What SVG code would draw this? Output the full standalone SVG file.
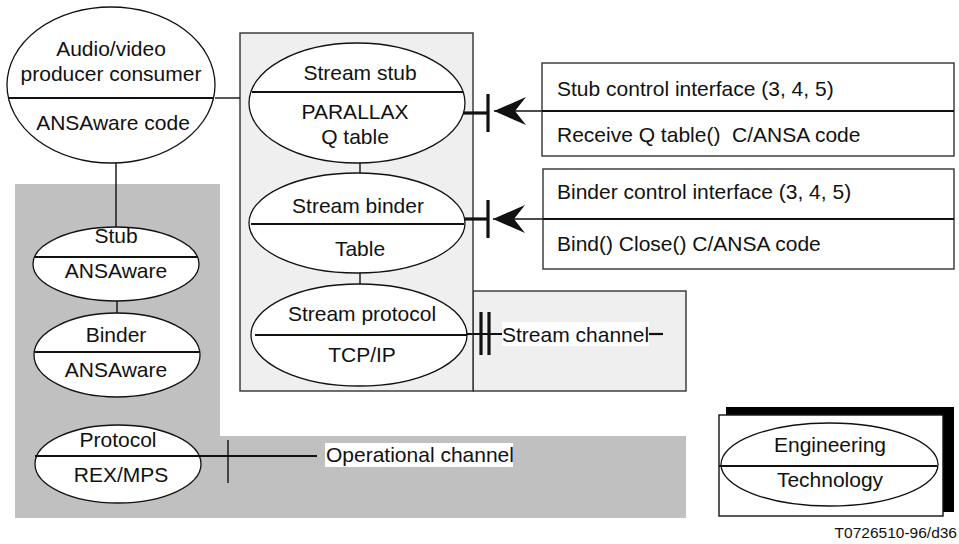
<svg xmlns="http://www.w3.org/2000/svg" width="959" height="544" viewBox="0 0 959 544">
<defs>
<style>
text{font-family:"Liberation Sans",Arial,sans-serif;font-size:21px;fill:#111}
.c{text-anchor:middle}
.el{fill:#fff;stroke:#111;stroke-width:1.3}
.dv{stroke:#111;stroke-width:2.2}
.ln{stroke:#111;stroke-width:1.4;fill:none}
.thk{stroke:#111;stroke-width:3.2;fill:none}
.box{fill:#fff;stroke:#333;stroke-width:1.4}
</style>
<marker id="arr" markerUnits="userSpaceOnUse" viewBox="0 0 32 30" markerWidth="32" markerHeight="30" refX="32" refY="15" orient="auto">
<path d="M32,15 L0,1 L11,15 L0,29 Z" fill="#111"/>
</marker>
</defs>
<rect width="959" height="544" fill="#fff"/>

<g id="operational-domain">
<path d="M15,184 H220 V436 H686 V518 H15 Z" fill="#c0c0c0"/>
</g>
<g id="stream-domain">
<rect x="473" y="291" width="213" height="100" fill="#efefef" stroke="#333" stroke-width="1.4"/>
<rect x="240" y="33" width="233" height="358" fill="#efefef" stroke="#333" stroke-width="1.4"/>
</g>

<g id="connectors">
<line class="ln" x1="215" y1="98" x2="240" y2="98"/>
<line class="ln" x1="116" y1="163" x2="116" y2="227"/>
<line class="ln" x1="117" y1="301" x2="117" y2="313"/>
<line class="ln" x1="360" y1="163" x2="360" y2="173"/>
<line class="ln" x1="360" y1="273" x2="360" y2="284"/>
<line class="thk" x1="463" y1="113" x2="488" y2="113"/>
<line class="thk" x1="488" y1="94" x2="488" y2="132"/>
<line class="ln" x1="542" y1="111" x2="494" y2="111" stroke-width="1.8" marker-end="url(#arr)"/>
<line class="thk" x1="464" y1="219" x2="488" y2="219"/>
<line class="thk" x1="488" y1="200" x2="488" y2="238"/>
<line class="ln" x1="543" y1="219" x2="493" y2="219" stroke-width="1.8" marker-end="url(#arr)"/>
<line class="dv" x1="466" y1="334" x2="502" y2="334"/>
<line class="thk" x1="481" y1="312" x2="481" y2="355" stroke-width="2.6"/>
<line class="thk" x1="489" y1="312" x2="489" y2="355" stroke-width="2.6"/>
<line class="dv" x1="648" y1="334" x2="663" y2="334"/>
<line class="dv" x1="200" y1="456" x2="317" y2="456"/>
<line class="ln" x1="228" y1="440" x2="228" y2="483" stroke-width="2"/>
</g>

<g id="av-producer">
<ellipse class="el" cx="111" cy="85" rx="104" ry="78"/>
<line class="dv" x1="8" y1="98" x2="214" y2="98"/>
<text class="c" x="111" y="56">Audio/video</text>
<text class="c" x="111" y="81">producer consumer</text>
<text class="c" x="113" y="130">ANSAware code</text>
</g>

<g id="stream-stub">
<ellipse class="el" cx="357" cy="103" rx="108" ry="60"/>
<line class="dv" x1="252" y1="92" x2="463" y2="92"/>
<text class="c" x="360" y="80">Stream stub</text>
<text class="c" x="355" y="119">PARALLAX</text>
<text class="c" x="355" y="144">Q table</text>
</g>

<g id="stream-binder">
<ellipse class="el" cx="357" cy="223" rx="108" ry="50"/>
<line class="dv" x1="251" y1="224" x2="464" y2="224"/>
<text class="c" x="358" y="213">Stream binder</text>
<text class="c" x="360" y="256">Table</text>
</g>

<g id="stream-protocol">
<ellipse class="el" cx="359" cy="335" rx="108" ry="51"/>
<line class="dv" x1="255" y1="335" x2="467" y2="335"/>
<text class="c" x="362" y="321">Stream protocol</text>
<text class="c" x="362" y="362">TCP/IP</text>
</g>

<g id="stream-channel">
<rect x="502" y="322" width="147" height="24" fill="#fff"/>
<text x="502" y="342">Stream channel</text>
</g>

<g id="stub-control">
<rect class="box" x="542" y="63" width="412" height="93"/>
<line class="dv" x1="542" y1="111" x2="954" y2="111"/>
<text x="557" y="96">Stub control interface (3, 4, 5)</text>
<text x="557" y="142" xml:space="preserve">Receive Q table()  C/ANSA code</text>
</g>

<g id="binder-control">
<rect class="box" x="543" y="169" width="411" height="100"/>
<line class="dv" x1="543" y1="219" x2="954" y2="219"/>
<text x="557" y="199">Binder control interface (3, 4, 5)</text>
<text x="557" y="251">Bind() Close() C/ANSA code</text>
</g>

<g id="stub">
<ellipse class="el" cx="116" cy="264" rx="83" ry="37"/>
<line class="dv" x1="34" y1="257" x2="198" y2="257"/>
<text class="c" x="116" y="243">Stub</text>
<text class="c" x="116" y="278">ANSAware</text>
</g>

<g id="binder">
<ellipse class="el" cx="117" cy="355" rx="83" ry="42"/>
<line class="dv" x1="35" y1="352" x2="199" y2="352"/>
<text class="c" x="116" y="342">Binder</text>
<text class="c" x="116" y="377">ANSAware</text>
</g>

<g id="protocol">
<ellipse class="el" cx="118" cy="464" rx="83" ry="39"/>
<line class="dv" x1="35" y1="456" x2="201" y2="456"/>
<text class="c" x="118" y="447">Protocol</text>
<text class="c" x="121" y="482">REX/MPS</text>
</g>

<g id="operational-channel">
<rect x="325" y="443" width="188" height="24" fill="#fff"/>
<text x="326" y="462">Operational channel</text>
</g>

<g id="legend">
<rect x="726" y="407" width="228" height="105" fill="#000"/>
<rect x="719" y="415" width="224" height="101" fill="#fff" stroke="#111" stroke-width="1.4"/>
<ellipse class="el" cx="829.5" cy="464.5" rx="108.5" ry="41.5"/>
<line class="dv" x1="719" y1="466" x2="937" y2="466"/>
<text class="c" x="830" y="452">Engineering</text>
<text class="c" x="830" y="487">Technology</text>
</g>

<text x="957" y="538" text-anchor="end" style="font-size:15.5px">T0726510-96/d36</text>
</svg>
